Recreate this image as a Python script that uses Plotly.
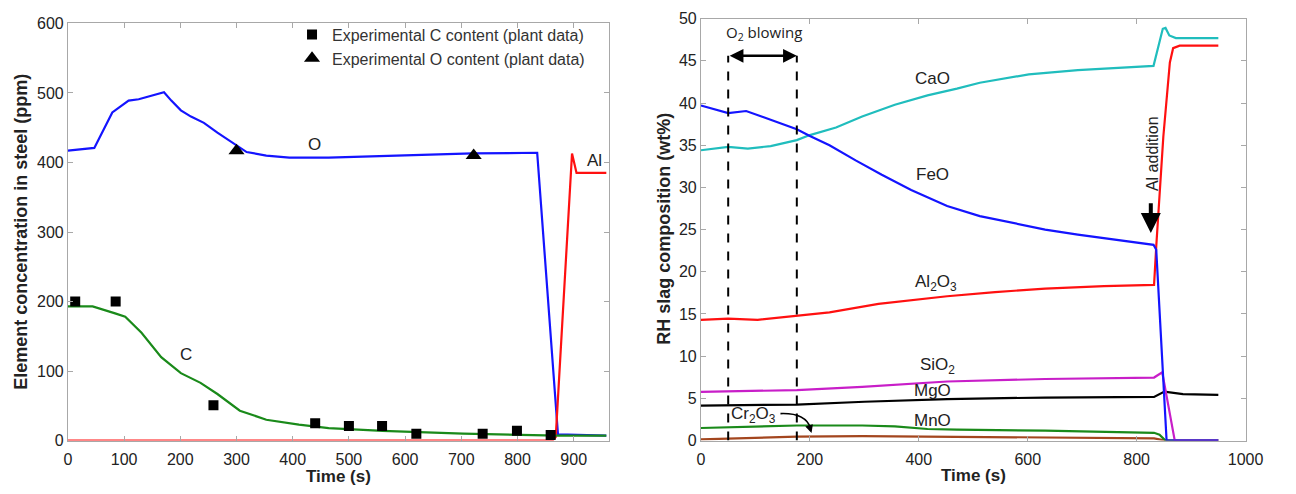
import plotly.graph_objects as go

# ---------------- Steel composition (left panel) ----------------
o_time = [0, 47, 79, 108, 126, 171, 184, 201, 219, 242, 266, 295, 318, 353, 394, 464, 600, 720, 835, 872, 958]
o_ppm = [417, 421, 472, 489, 491, 501, 489, 475, 466, 457, 443, 428, 415, 410, 407, 407, 410, 413, 414, 9, 7]

c_time = [0, 44, 84, 102, 131, 166, 201, 236, 266, 306, 353, 411, 464, 560, 703, 872, 958]
c_ppm = [193, 193, 183, 178, 155, 120, 97, 83, 67, 43, 30, 23, 18, 14, 10, 7, 7]

al_time = [0, 862, 868, 889, 897, 905, 958]
al_ppm = [0, 0, 5, 289, 413, 385, 385]

exp_c_time = [13, 85, 259, 440, 500, 559, 620, 738, 799, 859]
exp_c_ppm = [200, 200, 51, 25, 21, 21, 10, 10, 14, 8]

exp_o_time = [300, 722]
exp_o_ppm = [417, 410]

# ---------------- Slag composition (right panel) ----------------
feo_t = [0, 50, 83, 128, 176, 200, 236, 284, 332, 386, 452, 512, 572, 632, 692, 760, 831, 836, 855, 950]
feo = [39.7, 38.8, 39.05, 38.0, 36.9, 36.1, 35.0, 33.2, 31.5, 29.7, 27.8, 26.6, 25.8, 25.0, 24.4, 23.8, 23.2, 22.6, 0, 0]

cao_t = [0, 50, 86, 128, 176, 200, 248, 296, 356, 416, 470, 512, 602, 692, 831, 848, 853, 860, 872, 950]
cao = [34.4, 34.8, 34.6, 34.9, 35.6, 36.2, 37.1, 38.4, 39.8, 40.9, 41.7, 42.4, 43.4, 43.9, 44.4, 48.8, 48.9, 48.0, 47.7, 47.7]

al2o3_t = [0, 50, 104, 176, 236, 326, 416, 452, 540, 632, 740, 832, 836, 849, 861, 867, 879, 950]
al2o3 = [14.3, 14.45, 14.3, 14.76, 15.2, 16.2, 16.9, 17.1, 17.6, 18.0, 18.3, 18.45, 23.0, 36.0, 44.8, 46.5, 46.8, 46.8]

sio2_t = [0, 176, 296, 452, 632, 832, 847, 870, 950]
sio2 = [5.76, 5.99, 6.37, 7.0, 7.3, 7.47, 8.1, 0, 0]

mgo_t = [0, 176, 300, 452, 632, 832, 851, 885, 950]
mgo = [4.15, 4.27, 4.6, 4.92, 5.1, 5.18, 5.8, 5.5, 5.41]

mno_t = [0, 50, 176, 296, 356, 416, 470, 632, 832, 842, 853, 950]
mno = [1.49, 1.6, 1.79, 1.79, 1.68, 1.37, 1.3, 1.18, 0.92, 0.69, 0, 0]

cr2o3_t = [0, 176, 296, 470, 632, 832, 853, 950]
cr2o3 = [0.15, 0.46, 0.53, 0.46, 0.34, 0.27, 0, 0]

left_xticks = list(range(0, 1000, 100))
left_yticks = list(range(0, 700, 100))
right_xticks = list(range(0, 1200, 200))
right_yticks = list(range(0, 55, 5))

FONT = "Liberation Sans, Arial, sans-serif"
TXT = "#222222"
AXC = "#a8a8a8"

W, H = 1296, 494

fig = go.Figure()

line_w = 2.2
fig.add_trace(go.Scatter(x=o_time, y=o_ppm, mode="lines", line=dict(color="#1414ff", width=line_w),
                         showlegend=False, xaxis="x", yaxis="y"))
fig.add_trace(go.Scatter(x=al_time, y=al_ppm, mode="lines", line=dict(color="#ff1010", width=line_w),
                         showlegend=False, xaxis="x", yaxis="y"))
fig.add_trace(go.Scatter(x=c_time, y=c_ppm, mode="lines", line=dict(color="#1a8a1a", width=line_w),
                         showlegend=False, xaxis="x", yaxis="y"))
fig.add_trace(go.Scatter(x=exp_c_time, y=exp_c_ppm, mode="markers",
                         marker=dict(symbol="square", size=10, color="black"),
                         name="Experimental C content (plant data)", xaxis="x", yaxis="y"))
fig.add_trace(go.Scatter(x=exp_o_time, y=exp_o_ppm, mode="markers",
                         marker=dict(symbol="triangle-up", size=14, color="black"),
                         name="Experimental O content (plant data)", xaxis="x", yaxis="y"))

slag = [
    (cr2o3_t, cr2o3, "#a3461e"),
    (mno_t, mno, "#1a8a1a"),
    (mgo_t, mgo, "#000000"),
    (sio2_t, sio2, "#c81ec8"),
    (al2o3_t, al2o3, "#ff1010"),
    (cao_t, cao, "#20bdbd"),
    (feo_t, feo, "#1414ff"),
]
for t, v, col in slag:
    fig.add_trace(go.Scatter(x=t, y=v, mode="lines", line=dict(color=col, width=line_w),
                             showlegend=False, xaxis="x2", yaxis="y2"))

axis_common = dict(showline=True, linecolor=AXC, linewidth=1, mirror="ticks", ticks="inside",
                   ticklen=5, tickcolor=AXC, showgrid=False, zeroline=False,
                   tickfont=dict(family=FONT, size=16, color=TXT))

y_dom_left = [(H - 448) / H, (H - 16) / H]
y_dom_right = [(H - 448) / H, (H - 11) / H]

fig.update_layout(
    width=W, height=H, margin=dict(l=0, r=0, t=0, b=0),
    paper_bgcolor="white", plot_bgcolor="white",
    xaxis=dict(domain=[65 / W, 615 / W], range=[0, 962], tickvals=left_xticks, anchor="y",
               ticklabelstandoff=4, **axis_common),
    yaxis=dict(domain=y_dom_left, range=[0, 600], tickvals=left_yticks, anchor="x", **axis_common),
    xaxis2=dict(domain=[709 / W, 1263 / W], range=[0, 1000], tickvals=right_xticks, anchor="y2",
                ticklabelstandoff=4, **axis_common),
    yaxis2=dict(domain=y_dom_right, range=[0, 50], tickvals=right_yticks, anchor="x2", **axis_common),
    legend=dict(x=293 / W, y=1 - 10 / H, xanchor="left", yanchor="top", bgcolor="rgba(0,0,0,0)",
                font=dict(family=FONT, size=16, color="#333333"), tracegroupgap=0),
)

ann = []
title_font = dict(family=FONT, size=18, color=TXT, weight="bold")
xtitle_font = dict(family=FONT, size=17, color=TXT, weight="bold")
# axis titles
ann.append(dict(text="Element concentration in steel (ppm)", x=17 / W, y=(H - 232) / H, xref="paper", yref="paper",
                xanchor="center", yanchor="middle", textangle=-90, showarrow=False, font=title_font))
ann.append(dict(text="Time (s)", x=340 / W, y=(H - 485) / H, xref="paper", yref="paper",
                xanchor="center", yanchor="middle", showarrow=False, font=xtitle_font))
ann.append(dict(text="RH slag composition (wt%)", x=672 / W, y=(H - 229) / H, xref="paper", yref="paper",
                xanchor="center", yanchor="middle", textangle=-90, showarrow=False, font=title_font))
ann.append(dict(text="Time (s)", x=986 / W, y=(H - 484) / H, xref="paper", yref="paper",
                xanchor="center", yanchor="middle", showarrow=False, font=xtitle_font))

lab_font = dict(family=FONT, size=17, color=TXT)
# left panel curve labels
for txt, x, y in [("O", 438, 426), ("C", 210, 124), ("Al", 937, 403)]:
    ann.append(dict(text=txt, x=x, y=y, xref="x", yref="y", showarrow=False, font=lab_font))
# right panel curve labels
for txt, x, y in [("CaO", 425, 42.9), ("FeO", 425, 31.5), ("Al<sub>2</sub>O<sub>3</sub>", 431, 18.7),
                  ("SiO<sub>2</sub>", 434, 8.8), ("MgO", 425, 5.9), ("MnO", 425, 2.4),
                  ("Cr<sub>2</sub>O<sub>3</sub>", 96, 3.0)]:
    ann.append(dict(text=txt, x=x, y=y, xref="x2", yref="y2", showarrow=False, font=lab_font))

# O2 blowing period
ann.append(dict(text="O<sub>2</sub> blowing", x=115, y=48.3, xref="x2", yref="y2", showarrow=False,
                font=dict(family="Open Sans, sans-serif", size=15, color=TXT)))
ann.append(dict(text="", x=176, y=45.6, ax=50, ay=45.6, xref="x2", yref="y2", axref="x2", ayref="y2",
                showarrow=True, arrowhead=2, arrowside="end+start", arrowsize=1.1, arrowwidth=2.5,
                arrowcolor="black"))
# Al addition marker
ann.append(dict(text="Al addition", x=829, y=34.0, xref="x2", yref="y2", showarrow=False, textangle=-90,
                font=dict(family=FONT, size=16, color=TXT)))
ann.append(dict(text="", x=826, y=24.6, ax=826, ay=28.3, xref="x2", yref="y2", axref="x2", ayref="y2",
                showarrow=True, arrowhead=2, arrowsize=1, arrowwidth=4, arrowcolor="black"))
# Cr2O3 pointer head
ann.append(dict(text="", x=203, y=0.9, ax=200, ay=1.5, xref="x2", yref="y2", axref="x2", ayref="y2",
                showarrow=True, arrowhead=2, arrowsize=1, arrowwidth=1.6, arrowcolor="black"))

fig.update_layout(annotations=ann)

shapes = []
for xv in (50, 176):
    shapes.append(dict(type="line", x0=xv, x1=xv, y0=0, y1=45.6, xref="x2", yref="y2",
                       line=dict(color="black", width=2, dash="dash")))
shapes.append(dict(type="path", path="M 146,3.2 Q 192,3.3 201,1.5", xref="x2", yref="y2",
                   line=dict(color="black", width=1.6)))
fig.update_layout(shapes=shapes)

fig.write_html("out.html")
